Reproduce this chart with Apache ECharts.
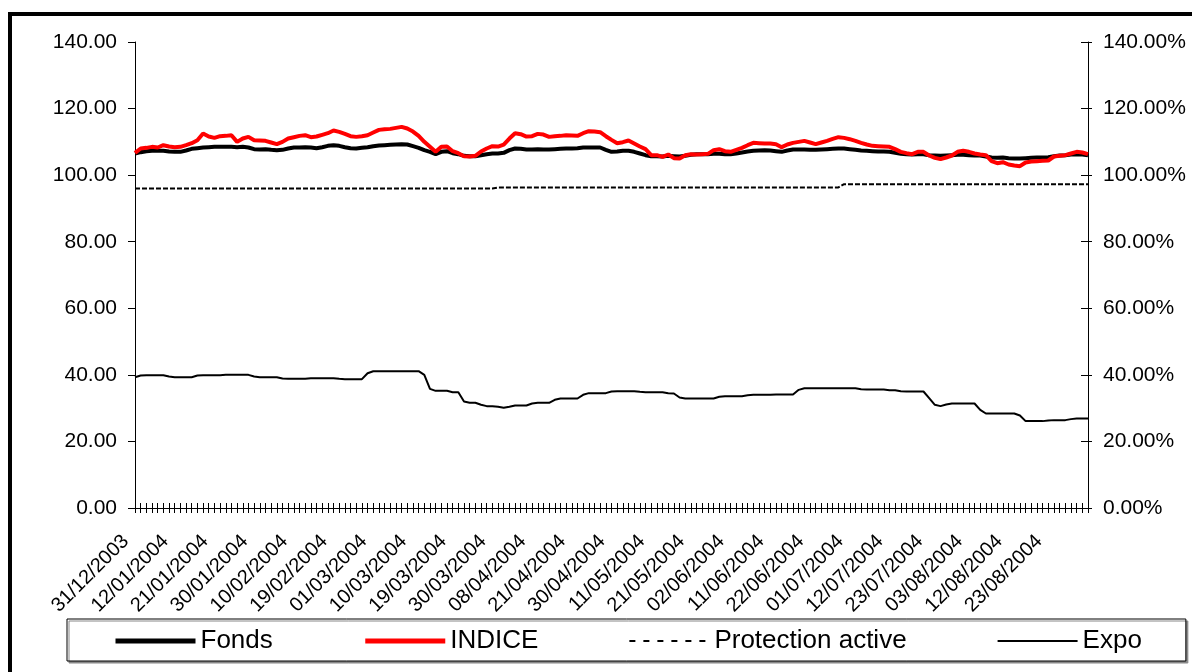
<!DOCTYPE html>
<html>
<head>
<meta charset="utf-8">
<script src="https://cdn.jsdelivr.net/npm/echarts@6/dist/echarts.min.js"></script>
<style>
  html, body { margin: 0; padding: 0; background: #fff; }
  #chart { width: 1192px; height: 672px; }
</style>
</head>
<body>
<div id="chart"></div>
<script>
// dates (jours ouvrés)
const dates = [
  "31/12/2003", "02/01/2004", "05/01/2004", "06/01/2004", "07/01/2004", "08/01/2004", "09/01/2004",
  "12/01/2004", "13/01/2004", "14/01/2004", "15/01/2004", "16/01/2004", "19/01/2004", "20/01/2004",
  "21/01/2004", "22/01/2004", "23/01/2004", "26/01/2004", "27/01/2004", "28/01/2004", "29/01/2004",
  "30/01/2004", "02/02/2004", "03/02/2004", "04/02/2004", "05/02/2004", "06/02/2004", "09/02/2004",
  "10/02/2004", "11/02/2004", "12/02/2004", "13/02/2004", "16/02/2004", "17/02/2004", "18/02/2004",
  "19/02/2004", "20/02/2004", "23/02/2004", "24/02/2004", "25/02/2004", "26/02/2004", "27/02/2004",
  "01/03/2004", "02/03/2004", "03/03/2004", "04/03/2004", "05/03/2004", "08/03/2004", "09/03/2004",
  "10/03/2004", "11/03/2004", "12/03/2004", "15/03/2004", "16/03/2004", "17/03/2004", "18/03/2004",
  "19/03/2004", "22/03/2004", "23/03/2004", "24/03/2004", "25/03/2004", "26/03/2004", "29/03/2004",
  "30/03/2004", "31/03/2004", "01/04/2004", "02/04/2004", "05/04/2004", "06/04/2004", "07/04/2004",
  "08/04/2004", "13/04/2004", "14/04/2004", "15/04/2004", "16/04/2004", "19/04/2004", "20/04/2004",
  "21/04/2004", "22/04/2004", "23/04/2004", "26/04/2004", "27/04/2004", "28/04/2004", "29/04/2004",
  "30/04/2004", "03/05/2004", "04/05/2004", "05/05/2004", "06/05/2004", "07/05/2004", "10/05/2004",
  "11/05/2004", "12/05/2004", "13/05/2004", "14/05/2004", "17/05/2004", "18/05/2004", "19/05/2004",
  "21/05/2004", "24/05/2004", "25/05/2004", "26/05/2004", "27/05/2004", "28/05/2004", "01/06/2004",
  "02/06/2004", "03/06/2004", "04/06/2004", "07/06/2004", "08/06/2004", "09/06/2004", "10/06/2004",
  "11/06/2004", "14/06/2004", "15/06/2004", "16/06/2004", "17/06/2004", "18/06/2004", "21/06/2004",
  "22/06/2004", "23/06/2004", "24/06/2004", "25/06/2004", "28/06/2004", "29/06/2004", "30/06/2004",
  "01/07/2004", "02/07/2004", "05/07/2004", "06/07/2004", "07/07/2004", "08/07/2004", "09/07/2004",
  "12/07/2004", "13/07/2004", "15/07/2004", "16/07/2004", "19/07/2004", "20/07/2004", "22/07/2004",
  "23/07/2004", "26/07/2004", "27/07/2004", "28/07/2004", "29/07/2004", "30/07/2004", "02/08/2004",
  "03/08/2004", "04/08/2004", "05/08/2004", "06/08/2004", "09/08/2004", "10/08/2004", "11/08/2004",
  "12/08/2004", "13/08/2004", "16/08/2004", "17/08/2004", "18/08/2004", "19/08/2004", "20/08/2004",
  "23/08/2004", "24/08/2004", "25/08/2004", "26/08/2004", "27/08/2004", "30/08/2004", "31/08/2004",
  "01/09/2004"
];

const fonds = [
  106.5, 106.9, 107.2, 107.3, 107.3, 107.3, 107.1, 107.0, 107.0, 107.4,
  107.9, 108.1, 108.3, 108.4, 108.5, 108.5, 108.5, 108.5, 108.4, 108.5,
  108.3, 107.8, 107.7, 107.8, 107.6, 107.5, 107.6, 108.0, 108.3, 108.3,
  108.4, 108.3, 108.1, 108.4, 108.8, 109.0, 108.8, 108.4, 108.1, 108.0,
  108.2, 108.4, 108.7, 108.9, 109.0, 109.1, 109.2, 109.3, 109.2, 108.7,
  108.2, 107.5, 107.0, 106.3, 107.0, 107.2, 106.6, 106.3, 105.8, 105.7,
  105.7, 106.0, 106.3, 106.5, 106.5, 106.7, 107.5, 108.0, 107.9, 107.7,
  107.7, 107.8, 107.7, 107.7, 107.8, 107.9, 108.0, 108.0, 108.1, 108.3,
  108.3, 108.3, 108.3, 107.6, 107.0, 107.1, 107.3, 107.3, 107.0, 106.5,
  106.0, 105.7, 105.7, 105.6, 105.8, 105.7, 105.6, 105.8, 106.1, 106.3,
  106.3, 106.3, 106.4, 106.4, 106.3, 106.3, 106.5, 106.8, 107.1, 107.3,
  107.4, 107.5, 107.4, 107.2, 107.0, 107.4, 107.7, 107.7, 107.7, 107.6,
  107.6, 107.7, 107.8, 107.9, 108.0, 108.0, 107.8, 107.6, 107.4, 107.3,
  107.2, 107.1, 107.1, 107.0, 106.7, 106.4, 106.3, 106.2, 106.3, 106.3,
  106.0, 105.9, 105.8, 105.9, 106.0, 106.1, 106.1, 106.0, 105.9, 105.9,
  105.6, 105.3, 105.2, 105.3, 105.1, 105.0, 105.0, 105.1, 105.2, 105.3,
  105.3, 105.4, 105.7, 105.9, 106.0, 106.2, 106.3, 106.2, 106.0
];

const indice = [
  106.7, 108.0, 108.2, 108.5, 108.3, 109.0, 108.6, 108.4, 108.5, 109.0,
  109.6, 110.5, 112.5, 111.6, 111.2, 111.7, 111.8, 112.0, 110.0, 111.0,
  111.5, 110.5, 110.4, 110.3, 109.8, 109.3, 110.0, 111.0, 111.4, 111.8,
  112.0, 111.4, 111.6, 112.1, 112.6, 113.4, 113.0, 112.4, 111.7, 111.5,
  111.7, 112.0, 112.8, 113.6, 113.8, 113.9, 114.2, 114.5, 114.0, 113.1,
  111.8, 110.0, 108.5, 107.0, 108.5, 108.6, 107.2, 106.6, 105.7, 105.6,
  105.8, 107.1, 108.0, 108.7, 108.6, 109.2, 111.0, 112.6, 112.3, 111.6,
  111.7, 112.4, 112.2, 111.5, 111.7, 111.8, 112.0, 111.9, 111.8, 112.6,
  113.2, 113.1, 112.9, 111.7, 110.6, 109.6, 109.9, 110.4, 109.5, 108.6,
  107.8, 106.0, 106.0, 105.5, 106.2, 105.1, 105.0, 106.0, 106.3, 106.2,
  106.3, 106.4, 107.5, 107.8, 107.2, 107.0, 107.6, 108.2, 109.0, 109.7,
  109.6, 109.5, 109.5, 109.3, 108.4, 109.2, 109.7, 110.0, 110.3, 109.8,
  109.3, 109.8, 110.3, 110.9, 111.4, 111.2, 110.8, 110.3, 109.7, 109.2,
  108.8, 108.7, 108.6, 108.5, 107.8, 107.0, 106.6, 106.3, 107.0, 107.0,
  105.9, 105.2, 104.8, 105.3, 105.9, 107.0, 107.3, 107.0, 106.5, 106.2,
  106.0, 104.2, 103.6, 103.9, 103.2, 102.9, 102.7, 103.8, 104.1, 104.2,
  104.3, 104.4, 105.6, 105.8, 106.0, 106.5, 107.0, 106.8, 106.3
];

const protection = [
  96.0, 96.0, 96.0, 96.0, 96.0, 96.0, 96.0, 96.0, 96.0, 96.0,
  96.0, 96.0, 96.0, 96.0, 96.0, 96.0, 96.0, 96.0, 96.0, 96.0,
  96.0, 96.0, 96.0, 96.0, 96.0, 96.0, 96.0, 96.0, 96.0, 96.0,
  96.0, 96.0, 96.0, 96.0, 96.0, 96.0, 96.0, 96.0, 96.0, 96.0,
  96.0, 96.0, 96.0, 96.0, 96.0, 96.0, 96.0, 96.0, 96.0, 96.0,
  96.0, 96.0, 96.0, 96.0, 96.0, 96.0, 96.0, 96.0, 96.0, 96.0,
  96.0, 96.0, 96.0, 96.0, 96.3, 96.3, 96.3, 96.3, 96.3, 96.3,
  96.3, 96.3, 96.3, 96.3, 96.3, 96.3, 96.3, 96.3, 96.3, 96.3,
  96.3, 96.3, 96.3, 96.3, 96.3, 96.3, 96.3, 96.3, 96.3, 96.3,
  96.3, 96.3, 96.3, 96.3, 96.3, 96.3, 96.3, 96.3, 96.3, 96.3,
  96.3, 96.3, 96.3, 96.3, 96.3, 96.3, 96.3, 96.3, 96.3, 96.3,
  96.3, 96.3, 96.3, 96.3, 96.3, 96.3, 96.3, 96.3, 96.3, 96.3,
  96.3, 96.3, 96.3, 96.3, 96.3, 97.3, 97.3, 97.3, 97.3, 97.3,
  97.3, 97.3, 97.3, 97.3, 97.3, 97.3, 97.3, 97.3, 97.3, 97.3,
  97.3, 97.3, 97.3, 97.3, 97.3, 97.3, 97.3, 97.3, 97.3, 97.3,
  97.3, 97.3, 97.3, 97.3, 97.3, 97.3, 97.3, 97.3, 97.3, 97.3,
  97.3, 97.3, 97.3, 97.3, 97.3, 97.3, 97.3, 97.3, 97.3
];

// expo en %, axe de droite
const expo = [
  39.3, 39.8, 39.9, 39.9, 39.9, 39.9, 39.5, 39.3, 39.3, 39.3,
  39.3, 39.8, 39.9, 39.9, 39.9, 39.9, 40.0, 40.0, 40.0, 40.0,
  40.0, 39.5, 39.3, 39.3, 39.3, 39.3, 38.9, 38.8, 38.8, 38.8,
  38.8, 39.0, 39.0, 39.0, 39.0, 39.0, 38.8, 38.7, 38.7, 38.7,
  38.7, 40.5, 41.1, 41.1, 41.1, 41.1, 41.1, 41.1, 41.1, 41.1,
  41.1, 40.0, 35.8, 35.2, 35.2, 35.2, 34.8, 34.8, 32.0, 31.6,
  31.6, 31.0, 30.6, 30.6, 30.4, 30.1, 30.4, 30.8, 30.8, 30.8,
  31.4, 31.6, 31.6, 31.6, 32.5, 32.9, 32.9, 32.9, 32.9, 34.0,
  34.5, 34.5, 34.5, 34.5, 35.0, 35.1, 35.1, 35.1, 35.1, 34.9,
  34.8, 34.8, 34.8, 34.8, 34.5, 34.4, 33.2, 32.9, 32.9, 32.9,
  32.9, 32.9, 32.9, 33.4, 33.6, 33.6, 33.6, 33.6, 33.9, 34.0,
  34.0, 34.0, 34.0, 34.1, 34.1, 34.1, 34.1, 35.5, 36.0, 36.0,
  36.0, 36.0, 36.0, 36.0, 36.0, 36.0, 36.0, 36.0, 35.7, 35.6,
  35.6, 35.6, 35.6, 35.4, 35.4, 35.1, 35.0, 35.0, 35.0, 35.0,
  33.0, 31.0, 30.6, 31.1, 31.4, 31.4, 31.4, 31.4, 31.4, 29.5,
  28.4, 28.4, 28.4, 28.4, 28.4, 28.4, 27.8, 26.1, 26.1, 26.1,
  26.1, 26.3, 26.4, 26.4, 26.4, 26.7, 26.9, 26.9, 26.9
];

const FONT = '"Liberation Sans", Arial, sans-serif';

let myChart = echarts.init(document.getElementById("chart"));

let option = {
  animation: false,
  textStyle: { fontFamily: FONT },
  graphic: [
    {
      type: "rect",
      shape: { x: 10, y: 14, width: 1200, height: 700 },
      style: { fill: "none", stroke: "#000", lineWidth: 4 },
      silent: true,
    },
  ],
  legend: {
    left: 67,
    top: 619,
    padding: [9, 44, 7, 46],
    itemGap: 90,
    itemWidth: 80,
    itemHeight: 14,
    borderColor: "#000",
    borderWidth: 1,
    shadowColor: "#888",
    shadowOffsetX: 2,
    shadowOffsetY: 2,
    shadowBlur: 0,
    backgroundColor: "#fff",
    itemStyle: { opacity: 0 },
    lineStyle: { width: "inherit" },
    textStyle: { fontSize: 26, color: "#000", fontFamily: FONT },
    data: [
      { name: "Fonds", lineStyle: { width: 5 } },
      { name: "INDICE", lineStyle: { width: 5 } },
      { name: "Protection active", lineStyle: { width: 2, type: [6, 8] } },
      { name: "Expo", lineStyle: { width: 2 } },
    ],
  },
  grid: {
    left: 135,
    right: 104,
    top: 42,
    bottom: 164,
  },
  xAxis: [
    {
      type: "category",
      data: dates,
      boundaryGap: false,
      position: "bottom",
      axisLine: { show: true, lineStyle: { color: "#000", width: 1 } },
      axisTick: { show: true, interval: 0, length: 5, lineStyle: { color: "#000" } },
      axisLabel: {
        // une étiquette tous les 7 jours, jusqu'au 23/08
        interval: (idx) => idx % 7 === 0 && idx <= 161,
        rotate: 45,
        margin: 21,
        padding: [0, 13, 0, 0],
        fontSize: 20,
        color: "#000",
        fontFamily: FONT,
      },
      splitLine: { show: false },
    },
    {
      // ticks croisés : moitié intérieure
      type: "category",
      data: dates,
      boundaryGap: false,
      position: "bottom",
      axisLine: { show: false },
      axisTick: { show: true, inside: true, interval: 0, length: 5, lineStyle: { color: "#000" } },
      axisLabel: { show: false },
      splitLine: { show: false },
    },
  ],
  yAxis: [
    {
      type: "value",
      min: 0,
      max: 140,
      interval: 20,
      position: "left",
      axisLine: { show: true, lineStyle: { color: "#000" } },
      axisTick: { show: true, length: 7, lineStyle: { color: "#000" } },
      axisLabel: {
        margin: 18,
        fontSize: 21,
        color: "#000",
        fontFamily: FONT,
        formatter: (v) => v.toFixed(2),
      },
      splitLine: { show: false },
    },
    {
      type: "value",
      min: 0,
      max: 140,
      interval: 20,
      position: "right",
      axisLine: { show: true, lineStyle: { color: "#000" } },
      axisTick: { show: true, inside: true, length: 7, lineStyle: { color: "#000" } },
      axisLabel: {
        margin: 15,
        fontSize: 21,
        color: "#000",
        fontFamily: FONT,
        formatter: (v) => v.toFixed(2) + "%",
      },
      splitLine: { show: false },
    },
    {
      // ticks croisés à droite : moitié extérieure
      type: "value",
      min: 0,
      max: 140,
      interval: 20,
      position: "right",
      axisLine: { show: false },
      axisTick: { show: true, length: 4, lineStyle: { color: "#000" } },
      axisLabel: { show: false },
      splitLine: { show: false },
    },
  ],
  series: [
    {
      name: "Fonds",
      type: "line",
      data: fonds,
      showSymbol: false,
      symbol: "none",
      lineStyle: { color: "#000", width: 4 },
      itemStyle: { color: "#000" },
      z: 3,
    },
    {
      name: "INDICE",
      type: "line",
      data: indice,
      showSymbol: false,
      symbol: "none",
      lineStyle: { color: "#ff0000", width: 4 },
      itemStyle: { color: "#ff0000" },
      z: 4,
    },
    {
      name: "Protection active",
      type: "line",
      data: protection,
      showSymbol: false,
      symbol: "none",
      lineStyle: { color: "#000", width: 2, type: [5, 2] },
      itemStyle: { color: "#000" },
      z: 2,
    },
    {
      name: "Expo",
      type: "line",
      yAxisIndex: 1,
      data: expo,
      showSymbol: false,
      symbol: "none",
      lineStyle: { color: "#000", width: 2 },
      itemStyle: { color: "#000" },
      z: 2,
    },
  ],
};

myChart.setOption(option, true);

window.addEventListener("resize", () => {
  myChart.resize();
});
</script>
</body>
</html>
